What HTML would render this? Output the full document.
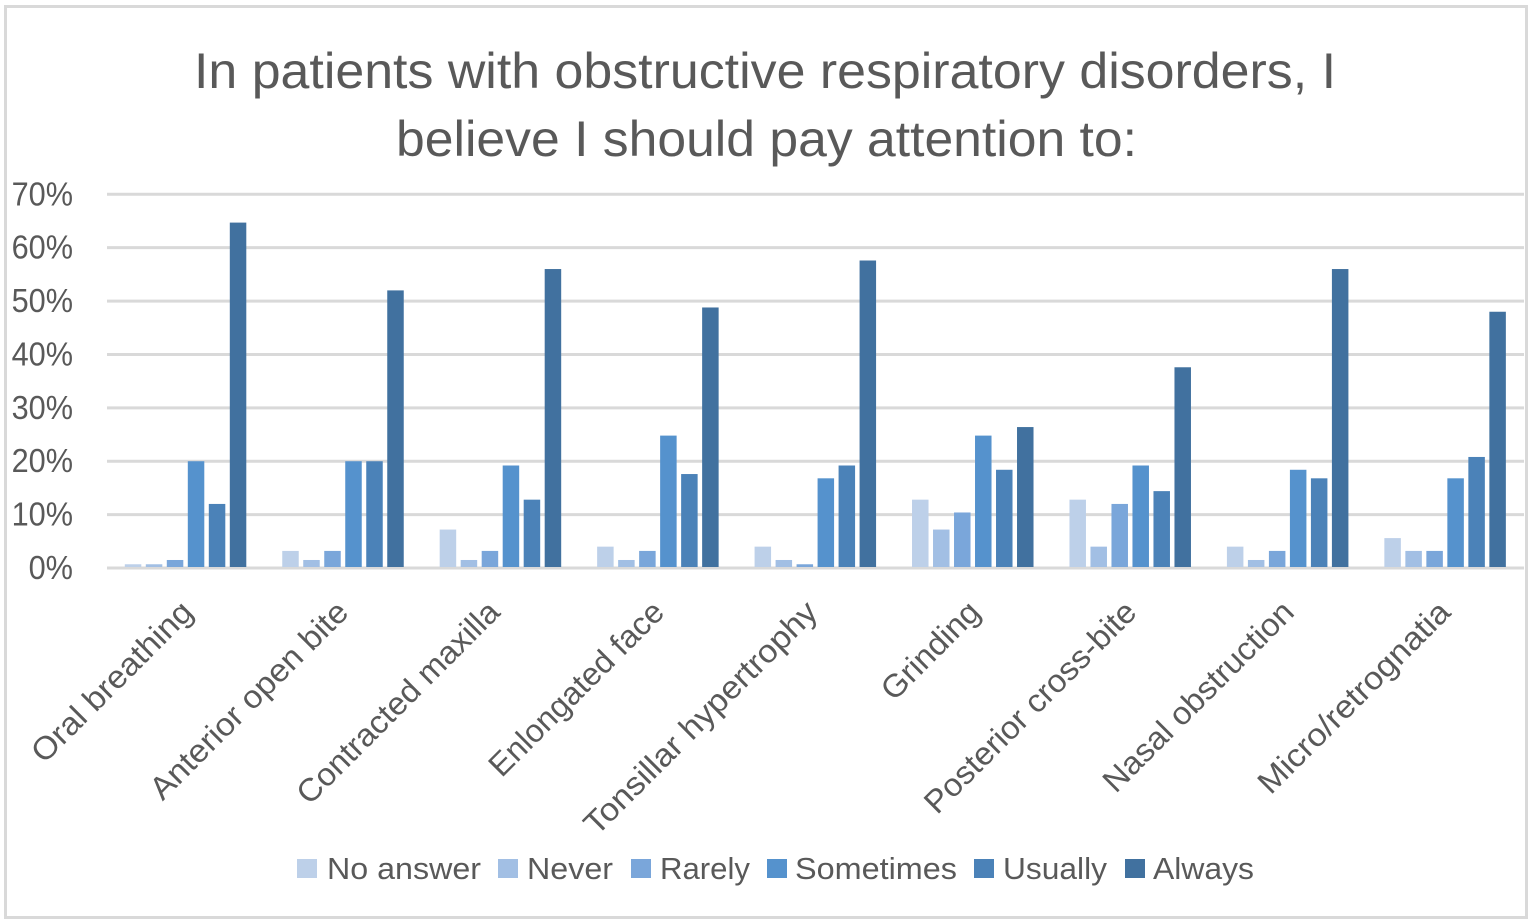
<!DOCTYPE html>
<html lang="en">
<head>
<meta charset="utf-8">
<title>In patients with obstructive respiratory disorders</title>
<style>
html,body{margin:0;padding:0;background:#fff;width:1532px;height:923px;overflow:hidden}
svg{display:block}
text{font-family:"Liberation Sans",sans-serif;fill:#595959}
</style>
</head>
<body>
<svg id="chart" width="1532" height="923" viewBox="0 0 1532 923" xmlns="http://www.w3.org/2000/svg">
  <rect x="5.5" y="6.5" width="1521" height="911" fill="#fff" stroke="#d9d9d9" stroke-width="3"/>
  <g font-size="50" text-anchor="start">
    <text x="194" y="88" textLength="1142" lengthAdjust="spacingAndGlyphs">In patients with obstructive respiratory disorders, I</text>
    <text x="396" y="156" textLength="741" lengthAdjust="spacingAndGlyphs">believe I should pay attention to:</text>
  </g>
  <g id="grid"></g>
  <g id="yticks"></g>
  <g id="bars"></g>
  <g id="xlabels"></g>
  <g font-size="31">
    <g><rect x="297" y="859" width="20" height="19" fill="#bdd0e9"/><text x="327" y="879" textLength="154" lengthAdjust="spacingAndGlyphs">No answer</text></g>
    <g><rect x="498" y="859" width="20" height="19" fill="#a2bfe4"/><text x="527" y="879" textLength="86" lengthAdjust="spacingAndGlyphs">Never</text></g>
    <g><rect x="631" y="859" width="20" height="19" fill="#7aa6da"/><text x="660" y="879" textLength="90" lengthAdjust="spacingAndGlyphs">Rarely</text></g>
    <g><rect x="767" y="859" width="20" height="19" fill="#5592cd"/><text x="795" y="879" textLength="162" lengthAdjust="spacingAndGlyphs">Sometimes</text></g>
    <g><rect x="974" y="859" width="20" height="19" fill="#4b82b8"/><text x="1003" y="879" textLength="104" lengthAdjust="spacingAndGlyphs">Usually</text></g>
    <g><rect x="1125" y="859" width="20" height="19" fill="#41719f"/><text x="1153" y="879" textLength="101" lengthAdjust="spacingAndGlyphs">Always</text></g>
  </g>
</svg>
<script>
const categories = ["Oral breathing","Anterior open bite","Contracted maxilla","Enlongated face","Tonsillar hypertrophy","Grinding","Posterior cross-bite","Nasal obstruction","Micro/retrognatia"];
const seriesNames = ["No answer","Never","Rarely","Sometimes","Usually","Always"];
const noAnswer = [0.7,3.2,7.2,4,4,12.8,12.8,4,5.6];
const never = [0.7,1.5,1.5,1.5,1.5,7.2,4,1.5,3.2];
const rarely = [1.5,3.2,3.2,3.2,0.7,10.4,12,3.2,3.2];
const sometimes = [20,20,19.2,24.8,16.8,24.8,19.2,18.4,16.8];
const usually = [12,20,12.8,17.6,19.2,18.4,14.4,16.8,20.8];
const always = [64.7,52,56,48.8,57.6,26.4,37.6,56,48];
const yTicks = [0,10,20,30,40,50,60,70];

const allSeries = [noAnswer,never,rarely,sometimes,usually,always];
const colors = ["#bdd0e9","#a2bfe4","#7aa6da","#5592cd","#4b82b8","#41719f"];
const NS = "http://www.w3.org/2000/svg";
const plotLeft = 107, plotRight = 1524, plotTop = 194.3, plotBottom = 568;
const yMax = 70;
const groupStep = (plotRight - plotLeft) / categories.length;
const barStep = 21, barWidth = 16.5, groupPad = 17.8;

function yScale(v){ return plotBottom - (v / yMax) * (plotBottom - plotTop); }
function xScale(groupIndex, seriesIndex){ return plotLeft + groupIndex * groupStep + groupPad + seriesIndex * barStep; }
function slug(s){ return s.toLowerCase().replace(/[^a-z0-9]+/g,'-'); }

const gridG = document.getElementById('grid');
const tickG = document.getElementById('yticks');
yTicks.forEach(function(t){
  const line = document.createElementNS(NS,'line');
  
  
  line.setAttribute('x1', plotLeft);
  line.setAttribute('x2', plotRight);
  line.setAttribute('y1', yScale(t));
  line.setAttribute('y2', yScale(t));
  line.setAttribute('stroke', '#d9d9d9');
  line.setAttribute('stroke-width', '3');
  gridG.appendChild(line);
  const label = document.createElementNS(NS,'text');
  
  
  label.setAttribute('x', 73);
  label.setAttribute('y', yScale(t) + 11);
  label.setAttribute('text-anchor', 'end');
  label.setAttribute('font-size', '33');
  label.textContent = t + '%';
  tickG.appendChild(label);
  label.setAttribute('textLength', (label.getComputedTextLength() * 0.93).toFixed(1));
  label.setAttribute('lengthAdjust', 'spacingAndGlyphs');
});

const barsG = document.getElementById('bars');
allSeries.forEach(function(vals, s){
  vals.forEach(function(v, g){
    const r = document.createElementNS(NS,'rect');
    
    
    r.setAttribute('x', xScale(g, s));
    r.setAttribute('y', yScale(v));
    r.setAttribute('width', barWidth);
    r.setAttribute('height', yScale(0) - yScale(v) - 1);
    r.setAttribute('fill', colors[s]);
    barsG.appendChild(r);
  });
});

const xG = document.getElementById('xlabels');
categories.forEach(function(c, g){
  const fit = [1.05,1.05,1.025,1.005,1.067,1.03,1.033,1.03,1.07][g];
  const nudge = [0,-2,-8,-1,-5,0,-1,-1,-2][g];
  const cx = plotLeft + (g + 0.5) * groupStep + 9 + nudge;
  const cy = 614 + nudge * -0;
  const t = document.createElementNS(NS,'text');
  
  
  t.setAttribute('x', cx);
  t.setAttribute('y', cy);
  t.setAttribute('text-anchor', 'end');
  t.setAttribute('font-size', '32');
  t.setAttribute('transform', 'rotate(-45 ' + cx + ' ' + cy + ')');
  t.textContent = c;
  xG.appendChild(t);
  t.setAttribute('textLength', (t.getComputedTextLength() * fit).toFixed(1));
  t.setAttribute('lengthAdjust', 'spacingAndGlyphs');
});
</script>
</body>
</html>
